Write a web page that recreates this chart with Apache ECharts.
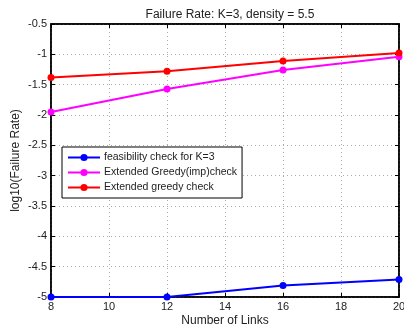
<!DOCTYPE html>
<html>
<head>
<meta charset="utf-8">
<script src="https://cdn.jsdelivr.net/npm/echarts@6/dist/echarts.min.js"></script>
<style>
  html, body { margin: 0; padding: 0; background: #fff; }
  #chart { width: 404px; height: 328px; }
</style>
</head>
<body>
<div id="chart"></div>
<script>
const links = [8, 12, 16, 20];
const feasibility = [-5, -5, -4.81, -4.71];
const greedyImp = [-1.95, -1.57, -1.26, -1.04];
const greedy = [-1.38, -1.28, -1.11, -0.98];
const seriesNames = [
  "feasibility check for K=3",
  "Extended Greedy(imp)check",
  "Extended greedy check"
];
const font = "Liberation Sans, Arial, sans-serif";

const chart = echarts.init(document.getElementById("chart"), null, { renderer: "canvas" });

function mkSeries(name, vals, color) {
  return {
    name: name,
    type: "line",
    data: links.map((x, i) => [x, vals[i]]),
    symbol: "circle",
    symbolSize: 7,
    itemStyle: { color: color },
    lineStyle: { color: color, width: 2 },
    clip: false
  };
}

const gridLine = { show: true, lineStyle: { color: "#aaa", type: [1, 3], width: 1 } };

chart.setOption({
  animation: false,
  title: {
    text: "Failure Rate: K=3, density = 5.5",
    left: 225, top: 4, textAlign: "center",
    textStyle: { fontFamily: font, fontSize: 12, fontWeight: "normal", color: "#222" }
  },
  grid: {
    left: 51, right: 5, top: 24, bottom: 31,
    outerBoundsMode: "none", containLabel: false,
    show: true, borderColor: "#000", borderWidth: 1.5
  },
  legend: {
    orient: "vertical", left: 62, top: 147,
    padding: [5, 5, 5, 5], itemGap: 4,
    itemWidth: 32, itemHeight: 9,
    backgroundColor: "#fff", borderColor: "#000", borderWidth: 1,
    textStyle: { fontFamily: font, fontSize: 10.5, color: "#222", padding: [0, 0, 0, -1] },
    data: seriesNames
  },
  xAxis: [{
    type: "value", min: 8, max: 20, interval: 2,
    name: "Number of Links", nameLocation: "middle", nameGap: 18,
    nameMoveOverlap: false,
    nameTextStyle: { fontFamily: font, fontSize: 12, color: "#222" },
    axisLine: { show: true, onZero: false, lineStyle: { color: "#000", width: 1.5 } },
    axisTick: { show: true, inside: true, length: 4, lineStyle: { color: "#000" } },
    axisLabel: { fontFamily: font, fontSize: 11, color: "#222", margin: 4 },
    splitLine: gridLine
  }, {
    type: "value", min: 8, max: 20, interval: 2, position: "top",
    axisLine: { show: true, lineStyle: { color: "#000", width: 1.5 } },
    axisTick: { show: true, inside: true, length: 4, lineStyle: { color: "#000" } },
    axisLabel: { show: false }, splitLine: { show: false }
  }],
  yAxis: [{
    type: "value", min: -5, max: -0.5, interval: 0.5,
    name: "log10(Failure Rate)", nameLocation: "middle", nameGap: 29,
    nameMoveOverlap: false,
    nameTextStyle: { fontFamily: font, fontSize: 12, color: "#222" },
    axisLine: { show: true, onZero: false, lineStyle: { color: "#000", width: 1.5 } },
    axisTick: { show: true, inside: true, length: 4, lineStyle: { color: "#000" } },
    axisLabel: { fontFamily: font, fontSize: 11, color: "#222", margin: 4 },
    splitLine: gridLine
  }, {
    type: "value", min: -5, max: -0.5, interval: 0.5, position: "right",
    axisLine: { show: true, lineStyle: { color: "#000", width: 1.5 } },
    axisTick: { show: true, inside: true, length: 4, lineStyle: { color: "#000" } },
    axisLabel: { show: false }, splitLine: { show: false }
  }],
  series: [
    mkSeries(seriesNames[0], feasibility, "#0000ff"),
    mkSeries(seriesNames[1], greedyImp, "#ff00ff"),
    mkSeries(seriesNames[2], greedy, "#ff0000")
  ]
});
</script>
</body>
</html>
